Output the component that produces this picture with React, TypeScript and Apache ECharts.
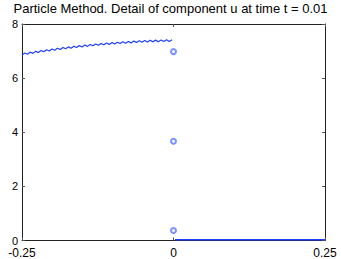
import React, { useEffect, useRef } from "react";
import * as echarts from "echarts";

const titleText = "Particle Method. Detail of component u at time t = 0.01";
const xTicks = [-0.25, 0, 0.25];
const yTicks = [0, 2, 4, 6, 8];

// left part of u (x < 0), oscillating
const leftX = [
  -0.25, -0.2455, -0.241, -0.2365, -0.232, -0.2275, -0.223, -0.2185, -0.214, -0.2095,
  -0.205, -0.2005, -0.196, -0.1915, -0.187, -0.1825, -0.178, -0.1735, -0.169, -0.1645,
  -0.16, -0.1555, -0.151, -0.1465, -0.142, -0.1375, -0.133, -0.1285, -0.124, -0.1195,
  -0.115, -0.1105, -0.106, -0.1015, -0.097, -0.0925, -0.088, -0.0835, -0.079, -0.0745,
  -0.07, -0.0655, -0.061, -0.0565, -0.052, -0.0475, -0.043, -0.0385, -0.034, -0.0295,
  -0.025, -0.0205, -0.016, -0.0115, -0.007, -0.0025,
];
const leftU = [
  6.85, 6.927, 6.883, 6.959, 6.915, 6.99, 6.946, 7.021, 6.975, 7.05,
  7.004, 7.078, 7.031, 7.105, 7.058, 7.131, 7.083, 7.155, 7.107, 7.179,
  7.13, 7.202, 7.152, 7.223, 7.173, 7.244, 7.193, 7.263, 7.212, 7.281,
  7.23, 7.298, 7.246, 7.314, 7.262, 7.329, 7.276, 7.343, 7.29, 7.356,
  7.302, 7.368, 7.313, 7.378, 7.323, 7.388, 7.332, 7.396, 7.34, 7.404,
  7.347, 7.41, 7.353, 7.415, 7.357, 7.419,
];
// right part of u (x > 0)
const rightX = [0.0025, 0.05, 0.1, 0.15, 0.2, 0.25];
const rightU = [0.03, 0.03, 0.03, 0.03, 0.03, 0.03];
// isolated particles at the discontinuity
const jumpX = [0, 0, 0];
const jumpU = [6.98, 3.67, 0.37];

const BLUE = "#1f3fff";
const FONT = "Liberation Sans, Arial, sans-serif";

export default function App() {
  const ref = useRef<HTMLDivElement>(null);
  useEffect(() => {
    if (!ref.current) return;
    const chart = echarts.init(ref.current, null, { renderer: "svg" });
    const axisLine = { show: true, onZero: false, lineStyle: { color: "#222", width: 1 } };
    const tick = { show: true, inside: true, length: 3, lineStyle: { color: "#555" } };
    chart.setOption({
      animation: false,
      backgroundColor: "#fff",
      title: {
        text: titleText,
        left: "center",
        top: 1,
        padding: 0,
        textStyle: { fontFamily: FONT, fontSize: 13, fontWeight: "normal", color: "#000", lineHeight: 14 },
      },
      grid: { left: 22, right: 16, top: 24, bottom: 17, containLabel: false },
      xAxis: [
        {
          type: "value",
          min: xTicks[0],
          max: xTicks[xTicks.length - 1],
          interval: 0.25,
          axisLine,
          axisTick: tick,
          splitLine: { show: false },
          axisLabel: {
            margin: 7,
            lineHeight: 11,
            fontFamily: FONT,
            fontSize: 12,
            color: "#000",
            formatter: (v: number) => (v === 0 ? "0" : String(v)),
          },
        },
        {
          type: "value",
          position: "top",
          min: xTicks[0],
          max: xTicks[xTicks.length - 1],
          interval: 0.25,
          axisLine,
          axisTick: tick,
          splitLine: { show: false },
          axisLabel: { show: false },
        },
      ],
      yAxis: [
        {
          type: "value",
          min: yTicks[0],
          max: yTicks[yTicks.length - 1],
          interval: 2,
          axisLine,
          axisTick: tick,
          splitLine: { show: false },
          axisLabel: { margin: 4, lineHeight: 9, fontFamily: FONT, fontSize: 11, color: "#000" },
        },
        {
          type: "value",
          position: "right",
          min: yTicks[0],
          max: yTicks[yTicks.length - 1],
          interval: 2,
          axisLine,
          axisTick: tick,
          splitLine: { show: false },
          axisLabel: { show: false },
        },
      ],
      series: [
        {
          type: "line",
          data: leftX.map((x, i) => [x, leftU[i]]),
          showSymbol: false,
          lineStyle: { color: BLUE, width: 1.2 },
        },
        {
          type: "line",
          data: rightX.map((x, i) => [x, rightU[i]]),
          showSymbol: false,
          lineStyle: { color: BLUE, width: 1.5 },
        },
        {
          type: "scatter",
          data: jumpX.map((x, i) => [x, jumpU[i]]),
          symbol: "emptyCircle",
          symbolSize: 5,
          itemStyle: { color: "#5a75ff", borderColor: "#5a75ff", borderWidth: 0.6 },
        },
      ],
    });
    return () => chart.dispose();
  }, []);
  return (
    <div
      ref={ref}
      style={{ position: "fixed", left: 0, top: 0, width: 341, height: 259 }}
    />
  );
}
